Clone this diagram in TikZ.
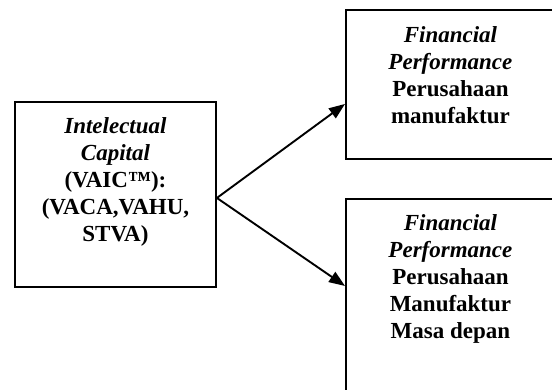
\documentclass[tikz,border=0pt]{standalone}
\usepackage{fontspec}
\setmainfont{Liberation Serif}
\usetikzlibrary{arrows.meta,positioning}

\begin{document}
\begin{tikzpicture}[x=1pt,y=-1pt,
  varbox/.style={draw,line width=1.9pt,inner sep=0pt,anchor=north west},
  vartext/.style={align=center,inner sep=0pt,
    font=\fontsize{23}{27}\selectfont\bfseries},
  vararr/.style={-{Triangle[length=16pt,width=12pt]},line width=1.9pt}
]
  \useasboundingbox (0,0) rectangle (552,389);
  \clip (0,0) rectangle (552,389);
  % Intellectual capital (left)
  \node[varbox,minimum width=201pt,minimum height=185pt] (ic) at (14,101) {};
  \node[vartext,below=16.5pt of ic.north] (ictext) {
    \textit{Intelectual}\\
    \textit{Capital}\\
    (VAIC™):\\
    (VACA,VAHU,\\
    STVA)};
  % Financial performance now (top right)
  \node[varbox,minimum width=209pt,minimum height=149pt] (fpnow) at (345,9) {};
  \node[vartext,below=17pt of fpnow.north] (fpnowtext) {
    \textit{Financial}\\
    \textit{Performance}\\
    Perusahaan\\
    manufaktur};
  % Financial performance future (bottom right)
  \node[varbox,minimum width=209pt,minimum height=200pt] (fpnext) at (345,198) {};
  \node[vartext,below=16.5pt of fpnext.north] (fpnexttext) {
    \textit{Financial}\\
    \textit{Performance}\\
    Perusahaan\\
    Manufaktur\\
    Masa depan};
  % Arrows
  \draw[vararr] ([yshift=-3.5pt]ic.east) -- ([yshift=-19.5pt]fpnow.west);
  \draw[vararr] ([yshift=-3.5pt]ic.east) -- ([yshift=13pt]fpnext.west);
\end{tikzpicture}
\end{document}
